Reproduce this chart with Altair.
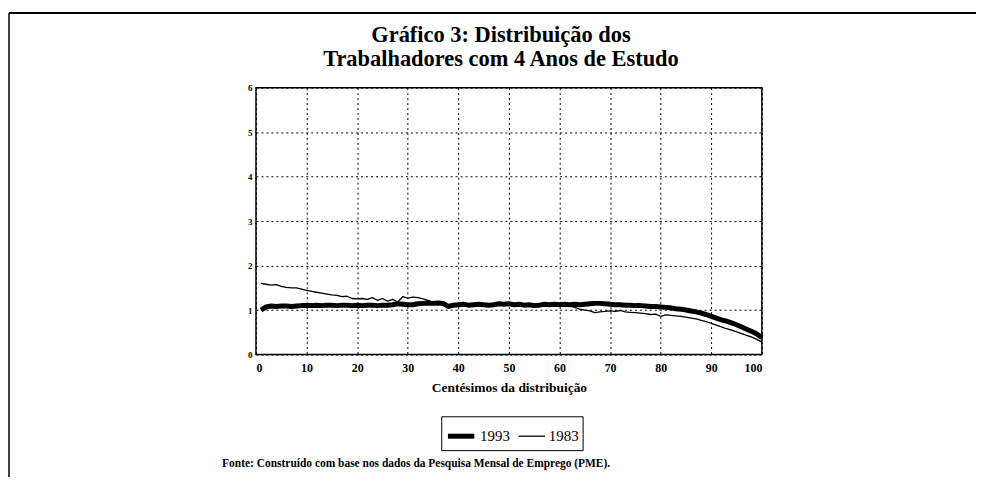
import altair as alt
import pandas as pd

centesimos = list(range(1, 101))

serie_1993 = [1.00, 1.07, 1.09, 1.08, 1.09, 1.09, 1.08, 1.09, 1.10, 1.10,
              1.10, 1.11, 1.10, 1.11, 1.11, 1.10, 1.11, 1.11, 1.10, 1.11,
              1.10, 1.11, 1.11, 1.10, 1.11, 1.11, 1.12, 1.14, 1.13, 1.12,
              1.12, 1.14, 1.15, 1.16, 1.15, 1.16, 1.15, 1.08, 1.11, 1.12,
              1.13, 1.11, 1.12, 1.13, 1.12, 1.11, 1.12, 1.14, 1.13, 1.14,
              1.12, 1.13, 1.11, 1.12, 1.10, 1.11, 1.13, 1.12, 1.13, 1.12,
              1.13, 1.12, 1.13, 1.12, 1.13, 1.14, 1.15, 1.15, 1.14, 1.13,
              1.12, 1.12, 1.11, 1.11, 1.10, 1.10, 1.09, 1.08, 1.08, 1.07,
              1.06, 1.05, 1.03, 1.02, 1.00, 0.98, 0.96, 0.93, 0.90, 0.86,
              0.82, 0.78, 0.75, 0.71, 0.67, 0.62, 0.57, 0.52, 0.46, 0.38]

serie_1983 = [1.60, 1.58, 1.56, 1.57, 1.53, 1.51, 1.50, 1.50, 1.47, 1.44,
              1.42, 1.40, 1.38, 1.36, 1.34, 1.33, 1.30, 1.31, 1.26, 1.25,
              1.26, 1.24, 1.28, 1.22, 1.26, 1.20, 1.24, 1.18, 1.30, 1.27,
              1.29, 1.28, 1.25, 1.22, 1.18, 1.17, 1.16, 1.10, 1.12, 1.13,
              1.12, 1.12, 1.13, 1.12, 1.11, 1.13, 1.12, 1.13, 1.12, 1.11,
              1.13, 1.12, 1.10, 1.12, 1.09, 1.10, 1.12, 1.11, 1.12, 1.11,
              1.10, 1.09, 1.06, 1.02, 1.00, 0.98, 0.94, 0.96, 0.97, 0.98,
              0.97, 0.99, 0.96, 0.95, 0.94, 0.93, 0.92, 0.90, 0.91, 0.86,
              0.89, 0.88, 0.87, 0.86, 0.84, 0.82, 0.80, 0.77, 0.74, 0.70,
              0.66, 0.62, 0.58, 0.55, 0.51, 0.47, 0.43, 0.39, 0.34, 0.28]

anos = ["1993", "1983"]
x_ticks = [0, 10, 20, 30, 40, 50, 60, 70, 80, 90, 100]
y_ticks = [0, 1, 2, 3, 4, 5, 6]

titulo = ["Gráfico 3: Distribuição dos", "Trabalhadores com 4 Anos de Estudo"]
titulo_x = "Centésimos da distribuição"
fonte = "Fonte: Construído com base nos dados da Pesquisa Mensal de Emprego (PME)."

df = pd.concat([
    pd.DataFrame({"c": centesimos, "v": serie_1993, "ano": anos[0]}),
    pd.DataFrame({"c": centesimos, "v": serie_1983, "ano": anos[1]}),
])
one = pd.DataFrame({"k": [0]})

SERIF = "Liberation Serif"
W, H = 508, 268

lines = alt.Chart(df).mark_line(color="black", strokeJoin="round").encode(
    x=alt.X("c:Q", scale=alt.Scale(domain=[0, 100], nice=False),
            axis=alt.Axis(values=x_ticks, title=titulo_x, format="d")),
    y=alt.Y("v:Q", scale=alt.Scale(domain=[0, 6], nice=False),
            axis=alt.Axis(values=y_ticks, title=None, format="d")),
    strokeWidth=alt.StrokeWidth(
        "ano:N",
        scale=alt.Scale(domain=anos, range=[5, 1.3]),
        legend=alt.Legend(
            title=None, orient="none", direction="horizontal",
            legendX=186, legendY=330,
            strokeColor="black", padding=4, cornerRadius=0,
            symbolType="stroke", symbolStrokeColor="black", symbolSize=700,
            labelFont=SERIF, labelFontSize=15, labelColor="black",
            labelFontWeight="normal", columnPadding=6, symbolOffset=0,
            labelOffset=3,
        ),
    ),
    order=alt.Order("ano:N", sort="descending"),
)

frame_top = alt.Chart(one).mark_rule(color="black", strokeWidth=2).encode(
    x=alt.value(-248), x2=alt.value(W + 215), y=alt.value(-75)
)
frame_left = alt.Chart(one).mark_rule(color="black", strokeWidth=1.5).encode(
    x=alt.value(-248), y=alt.value(-75), y2=alt.value(H + 125)
)
title_text = alt.Chart(one).mark_text(
    text=titulo, font=SERIF, fontSize=22.5, fontWeight="bold", lineHeight=24,
    align="center", baseline="alphabetic", color="black"
).encode(x=alt.value(W / 2 - 8), y=alt.value(-46))
source = alt.Chart(one).mark_text(
    text=fonte, font=SERIF, fontSize=11.5, fontWeight="bold",
    align="left", baseline="middle", color="black"
).encode(x=alt.value(223 - 257), y=alt.value(465 - 87))

chart = alt.layer(frame_top, frame_left, title_text, lines, source).properties(
    width=W, height=H,
    padding={"left": 249, "top": 79, "right": 215, "bottom": 122},
    autosize=alt.AutoSizeParams(type="none"),
).configure_view(
    stroke="black", strokeWidth=1.5
).configure_axis(
    grid=True, gridColor="black", gridDash=[2, 3], gridWidth=1, gridOpacity=1,
    domain=False, ticks=False,
    labelFont=SERIF, labelFontWeight="bold", labelColor="black",
    titleFont=SERIF, titleFontWeight="bold", titleColor="black",
).configure_axisX(
    labelFontSize=12, labelPadding=8, titleFontSize=13.5, titlePadding=7,
).configure_axisY(
    labelFontSize=9, labelPadding=4,
)

chart.save("out.html", embed_options={"renderer": "svg", "actions": False})
